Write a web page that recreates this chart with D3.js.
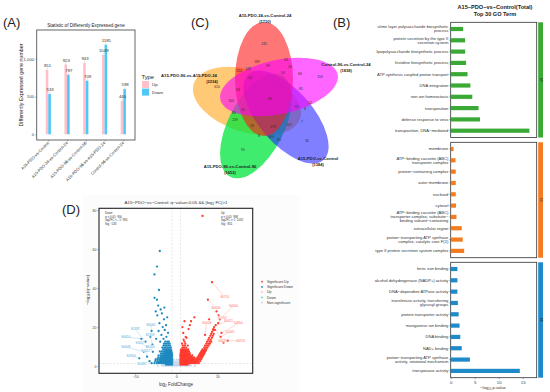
<!DOCTYPE html>
<html><head><meta charset="utf-8">
<script src="https://cdn.jsdelivr.net/npm/d3@7"></script>
<style>body{margin:0;background:#fff}svg{display:block}text{font-family:"Liberation Sans",Arial,sans-serif}</style>
</head><body><svg id="c" width="550" height="392"></svg>
<script>
// ---------------- DATA ----------------
// Panel A
const degCategories = ["A15-PDO-vs-Control","A15-PDO-24-vs-Control-24","A15-PDO-96-vs-Control-96","A15-PDO-96-vs-A15-PDO-24","Control-96-vs-Control-24"];
const degUp = [851, 923, 943, 1049, 440];
const degDown = [533, 787, 709, 1185, 598];
const degTicks = [0, 500, 1000];

// Panel B
const goBPTerms = ["slime layer polysaccharide biosynthetic\nprocess","protein secretion by the type II\nsecretion system","lipopolysaccharide biosynthetic process","histidine biosynthetic process","ATP synthesis coupled proton transport","DNA integration","iron ion homeostasis","transposition","defense response to virus","transposition, DNA−mediated"];
const goBPValues = [2.6, 3.0, 3.0, 3.2, 3.5, 4.1, 4.5, 5.8, 6.1, 16.4];
const goCCTerms = ["membrane","ATP−binding cassette (ABC)\ntransporter complex","protein−containing complex","outer membrane","nucleoid","cytosol","ATP−binding cassette (ABC)\ntransporter complex, substrate−\nbinding subunit−containing","extracellular region","proton−transporting ATP synthase\ncomplex, catalytic core F(1)","type II protein secretion system complex"];
const goCCValues = [0.6, 1.0, 1.05, 1.05, 1.05, 1.1, 1.2, 2.3, 2.5, 2.8];
const goMFTerms = ["ferric iron binding","alcohol dehydrogenase (NADP+) activity","DNA−dependent ATPase activity","transferase activity, transferring\nglycosyl groups","protein transporter activity","manganese ion binding","DNA binding","NAD+ binding","proton−transporting ATP synthase\nactivity, rotational mechanism","transposase activity"];
const goMFValues = [1.4, 1.4, 1.4, 1.5, 1.65, 1.85, 2.0, 2.3, 4.0, 14.4];
const goTicks = [0, 5, 10, 15];

// Panel C
const vennSets = ["A15-PDO-24-vs-Control-24","Control-96-vs-Control-24","A15-PDO-vs-Control","A15-PDO-96-vs-Control-96","A15-PDO-96-vs-A15-PDO-24"];
const vennSizes = [1710, 1838, 1384, 1652, 2234];
const vennRegionCounts = ["135","189","63","99","254","148","26","20","56","68","156","610","63","85","86","100","25","62","12","80","8","239","58","178","147","7","8","363","85","95","36"];

// Panel D (log2FC, -log10 q)
const downRows = [
 [0.8,[-1.0,-1.3,-1.6,-1.9,-2.2,-2.5]],
 [1.5,[-1.1,-1.4,-1.7,-2.0,-2.3,-2.6,-2.9,-3.2,-3.5,-3.8,-4.2,-4.7,-5.3,-6.0]],
 [2.0,[-1.0,-1.3,-1.6,-1.9,-2.2,-2.5,-2.8,-3.1,-3.4,-3.9,-4.4]],
 [2.5,[-1.2,-1.5,-1.8,-2.1,-2.4,-2.7,-3.0,-3.3,-3.7,-4.1,-4.6,-5.1]],
 [3.0,[-1.0,-1.3,-1.6,-1.9,-2.2,-2.5,-2.8,-3.1,-3.5,-3.9]],
 [3.5,[-1.1,-1.4,-1.7,-2.0,-2.3,-2.6,-2.9,-3.2,-3.6,-4.0,-4.5,-5.0]],
 [4.0,[-1.0,-1.3,-1.6,-1.9,-2.2,-2.5,-2.8,-3.2,-3.7]],
 [4.5,[-1.2,-1.5,-1.8,-2.1,-2.4,-2.7,-3.1,-3.5,-3.9,-4.4]],
 [5.0,[-1.0,-1.3,-1.6,-1.9,-2.2,-2.5,-2.8,-3.2,-3.6]],
 [5.5,[-1.1,-1.4,-1.7,-2.0,-2.3,-2.6,-3.0,-3.4,-3.8,-4.3]],
 [6.0,[-1.0,-1.3,-1.6,-1.9,-2.3,-2.7,-3.1]],
 [6.5,[-1.2,-1.5,-1.8,-2.1,-2.5,-2.9,-3.3,-3.7]],
 [7.0,[-1.1,-1.4,-1.7,-2.0,-2.4,-2.8]],
 [7.5,[-1.3,-1.6,-1.9,-2.2,-2.6,-3.0,-3.5,-4.0]],
 [8.0,[-1.2,-1.5,-1.8,-2.2,-2.6]],
 [8.5,[-1.4,-1.7,-2.0,-2.4,-2.8,-3.2]],
 [9.5,[-1.3,-1.7,-2.1,-2.5,-2.9,-3.4]],
 [10.5,[-1.5,-1.9,-2.3,-2.7,-3.1]],
 [11.5,[-1.6,-2.0,-2.5,-3.0]],
 [12.5,[-1.8,-2.2,-2.7]]
];
const downScatter = [[-3.1,14],[-2.4,15],[-3.6,16],[-2.0,17],[-2.8,18.5],[-3.3,20],[-2.5,21],[-4.1,22],[-3.0,24],[-2.2,25],[-3.5,27],[-4.6,26],[-3.8,29],[-2.9,30],[-4.4,31],[-5.0,28],[-5.3,35],[-4.0,59],[-4.7,51],[-5.3,47],[-4.2,39],[-4.7,34],[-7.1,10],[-7.9,7.3],[-7.5,12.5],[-5.7,7.3],[-7.1,4.8],[-8.5,14],[-6.0,18],[-9.0,4],[-6.5,2.5],[-5.8,11],[-4.9,14],[-4.3,18],[-3.9,12.5],[-6.3,15]];
const upRows = [
 [0.8,[1.0,1.3,1.6,1.9,2.2,2.5,2.8]],
 [1.5,[1.1,1.4,1.7,2.0,2.3,2.6,2.9,3.2,3.5,3.8,4.2,4.6,5.0,5.5]],
 [2.0,[1.0,1.3,1.6,1.9,2.2,2.5,2.8,3.1,3.4,3.7,4.1,4.5,4.9]],
 [2.5,[1.2,1.5,1.8,2.1,2.4,2.7,3.0,3.3,3.6,4.0,4.4,4.8,5.3,5.8]],
 [3.0,[1.0,1.3,1.6,1.9,2.2,2.5,2.8,3.1,3.5,3.9,4.3,4.7,5.2]],
 [3.5,[1.1,1.4,1.7,2.0,2.3,2.6,2.9,3.2,3.6,4.0,4.5,5.0,5.6,6.1]],
 [4.0,[1.0,1.3,1.6,1.9,2.2,2.5,2.8,3.2,3.6,4.1,4.9,5.4,5.9]],
 [4.5,[1.2,1.5,1.8,2.1,2.4,2.7,3.0,3.4,3.8,4.3,5.2,5.8,6.3]],
 [5.0,[1.0,1.3,1.6,1.9,2.2,2.5,2.8,3.2,3.7,5.4,5.9,6.4]],
 [5.5,[1.1,1.4,1.7,2.0,2.3,2.6,3.0,3.4,3.9,5.5,6.0,6.5]],
 [6.0,[1.0,1.3,1.6,1.9,2.3,2.7,3.1,5.7,6.2,6.7]],
 [6.5,[1.2,1.5,1.8,2.1,2.5,2.9,3.3,5.8,6.3,6.8]],
 [7.0,[1.1,1.4,1.7,2.1,2.5,2.9,6.0,6.5,6.9]],
 [7.5,[1.3,1.6,1.9,2.3,2.7,3.1,6.1,6.6,7.0]],
 [8.0,[1.1,1.5,1.8,2.2,2.6,6.3,6.8,7.2]],
 [8.5,[1.2,1.6,2.0,2.4,2.9,6.4,6.9,7.3]],
 [9.5,[1.5,1.9,2.4,6.8,7.2,7.6]],
 [10.5,[1.6,2.1,2.8,7.0,7.5,7.9]],
 [11.5,[1.4,2.2,7.3,7.8,8.2]],
 [12.5,[2.0,7.5,8.1,8.5]],
 [13.5,[1.8,7.8,8.4]],
 [14.5,[2.5,8.0,8.7]],
 [15.5,[8.3,8.9]],
 [16.5,[8.5,9.1]],
 [17.5,[8.7]],
 [18.5,[9.0,9.4]]
];
const upScatter = [[1.7,17],[2.3,15],[3.0,19],[3.6,23],[4.4,25],[3.3,21],[1.5,20],[2.0,23],[6.4,77],[8.7,43],[7.7,34],[9.8,28],[10.3,26],[10.6,24],[10.2,22],[9.0,19],[11.0,17],[8.0,24],[7.0,16],[12.5,13],[11.5,12],[10.8,15],[9.2,20],[9.6,21]];
const nsRows = [
 [0.2,[-3.5,-3.0,-2.5,-2.0,-1.5,-1.0,-0.5,0,0.5,1.0,1.5,2.0,2.5,3.0,3.5,4.5,-4.5]],
 [0.6,[-3.2,-2.7,-2.2,-1.7,-1.2,-0.7,-0.2,0.3,0.8,1.3,1.8,2.3,2.8,3.3]],
 [1.0,[-2.5,-1.9,-1.3,-0.8,-0.3,0.2,0.7,1.3,1.9,2.5]],
 [1.6,[-0.8,-0.4,0,0.4,0.8]],
 [2.4,[-0.7,-0.2,0.3,0.7]],
 [3.2,[-0.5,0.1,0.6]]
];
const volcanoLegend = ["Significant Up","Significant Down","Up","Down","Non-significant"];
const upInfo = ["Up","q < 0.05: 968","log2FC > 1: 1032","Sig : 851"];
const downInfo = ["Down","q < 0.05: 900","log2FC < −1: 934","Sig : 533"];
const volcanoXTicks = [-10, 0, 10];
const volcanoYTicks = [0, 20, 40, 60, 80];
// [gene, point log2FC, point -log10q, label log2FC, label -log10q]
const downGeneLabels = [["S1392",-7.5,12.5,-10.0,18.9],["S0040",-6.0,18,-6.2,21.2],["S1359",-5.8,11,-6.4,15.9],["S0610",-8.5,14,-12.3,14.9],["S0017",-7.1,10,-8.8,11.7],["S1400",-5.7,7.3,-6.4,9.9],["S0008",-7.9,7.3,-12.3,9.9],["S4704",-9.0,4,-11.0,5.3],["S0017",-7.1,4.8,-7.4,7.7],["S1492",-6.5,2.5,-8.4,0.9]];
const upGeneLabels = [["S0710",8.7,43,11.8,35.3],["S0006",7.7,34,9.6,30],["S4000",10.6,24,13.9,30.8],["S0702",10.2,22,11.2,24.8],["S0021",9.6,21,12.7,23.1],["S4904",11.0,17,15.1,21.9],["S0008",7.0,16,7.4,21.9],["S0005",10.8,15,13.1,17.6],["S4291",9.2,20,11.3,13],["S0701",12.5,13,15.7,13]];

// ---------------- DRAW ----------------
const svg = d3.select('#c');
svg.append('rect').attr('width',550).attr('height',392).attr('fill','#fff');
const FS = '"Liberation Sans",Arial,sans-serif';
const SERIF = '"Liberation Serif","DejaVu Serif",serif';

function panelLabel(t,x,y){svg.append('text').attr('x',x).attr('y',y).attr('font-size',13).attr('fill','#222').text(t);}
panelLabel('(A)',3,27); panelLabel('(C)',191,27); panelLabel('(B)',333,27); panelLabel('(D)',62,214);

// ===== Panel A =====
{
 const g = svg.append('g');
 const y = d3.scaleLinear().domain([0,1000]).range([134.3,58.7]);
 const x = d3.scalePoint().domain(degCategories).range([48.3,123.3]);
 const bw = 2.6;
 g.append('text').attr('x',86).attr('y',26.5).attr('text-anchor','middle').attr('font-size',4.6).attr('fill','#222').text('Statistic of Differently Expressed gene');
 g.append('rect').attr('x',36.7).attr('y',30).attr('width',98.3).attr('height',110).attr('fill','#fff').attr('stroke','#555').attr('stroke-width',0.9);
 degCategories.forEach((c,i)=>{
  const cx = x(c);
  g.append('rect').attr('x',cx-bw).attr('width',bw).attr('y',y(degUp[i])).attr('height',y(0)-y(degUp[i])).attr('fill','#ffc0cb');
  g.append('rect').attr('x',cx).attr('width',bw).attr('y',y(degDown[i])).attr('height',y(0)-y(degDown[i])).attr('fill','#4fc8f5');
  [[degUp[i],cx-bw/2],[degDown[i],cx+bw/2]].forEach(([v,bx])=>{
   g.append('line').attr('x1',bx).attr('x2',bx+0.3).attr('y1',y(v)).attr('y2',y(v)-2.2).attr('stroke','#999').attr('stroke-width',0.3);
   g.append('text').attr('x',bx+0.5).attr('y',y(v)-3).attr('text-anchor','middle').attr('font-size',4.3).attr('fill','#333').text(v);
  });
 });
 const ax = g.append('g').attr('transform','translate(36.7,0)').call(d3.axisLeft(y).tickValues(degTicks).tickSize(1.5).tickPadding(1));
 ax.select('.domain').remove();
 ax.selectAll('text').attr('font-size',4.3).attr('fill','#444').attr('font-family',FS);
 ax.selectAll('line').attr('stroke','#444').attr('stroke-width',0.4);
 const bx = g.append('g').attr('transform','translate(0,140)').call(d3.axisBottom(x).tickSize(1.5).tickFormat(''));
 bx.select('.domain').remove(); bx.selectAll('line').attr('stroke','#444').attr('stroke-width',0.4);
 degCategories.forEach(c=>{
  g.append('text').attr('transform',`translate(${x(c)+1},${143.5}) rotate(-45)`).attr('text-anchor','end').attr('font-size',4.1).attr('fill','#333').text(c);
 });
 g.append('text').attr('transform','translate(23,85) rotate(-90)').attr('text-anchor','middle').attr('font-size',5.3).attr('fill','#222').text('Differently Expressed gene number');
 g.append('text').attr('x',141.5).attr('y',78.5).attr('font-size',5.8).attr('fill','#222').text('Type');
 [['Up','#ffc0cb'],['Down','#4fc8f5']].forEach((d,i)=>{
  g.append('rect').attr('x',142).attr('y',81+i*7.6).attr('width',7).attr('height',7).attr('fill',d[1]);
  g.append('text').attr('x',152).attr('y',86.3+i*7.6).attr('font-size',4.4).attr('fill','#333').text(d[0]);
 });
}

// ===== Panel C (Venn) =====
{
 const g = svg.append('g');
 const shapes = [
  {cx:264,cy:79,a:57,b:29,rot:-90,col:'#ff1a1a',op:0.6},
  {cx:279,cy:87,a:60,b:27,rot:-12,col:'#ff00ff',op:0.6},
  {cx:286,cy:117,a:57,b:27,rot:49,col:'#2a2aff',op:0.6},
  {cx:256,cy:126,a:57,b:28,rot:117,col:'#00e63c',op:0.75},
  {cx:247,cy:101,a:56,b:31,rot:18,col:'#ffb23a',op:0.7}
 ];
 [4,3,2,0,1].forEach(i=>{
  const s = shapes[i];
  g.append('ellipse').attr('cx',0).attr('cy',0).attr('rx',s.a).attr('ry',s.b)
   .attr('transform',`translate(${s.cx},${s.cy}) rotate(${s.rot})`)
   .attr('fill',s.col).attr('fill-opacity',s.op);
 });
 const pos = [[264,44],[257,62],[286,60],[268,66],[239,71],[248,69],[290,67],[250,78],[283,73],[300,74],[320,77],[217,87],[238,90],[301,89],[270,99],[231,101],[243,110],[297,107],[310,103],[234,113],[305,109],[235,120],[252,126],[273,127],[289,125],[302,122],[259,136],[271,137],[279,140],[243,150],[307,141]];
 vennRegionCounts.forEach((t,i)=>{
  g.append('text').attr('x',pos[i][0]).attr('y',pos[i][1]+1.2).attr('text-anchor','middle').attr('font-size',3.4).attr('font-family',SERIF).attr('fill','#333').text(t);
 });
 // [name x, name y, count x, count y]
 const labPos = [[265,17,265,23],[346,65.5,346,71.5],[318,160,318,166],[230,168,230,174],[189,77,212,83]];
 vennSets.forEach((s,i)=>{
  const [lx,ly,cx2,cy2] = labPos[i];
  g.append('text').attr('x',lx).attr('y',ly).attr('text-anchor','middle').attr('font-size',4.2).attr('font-weight','bold').attr('font-family',SERIF).attr('fill','#222').text(s);
  g.append('text').attr('x',cx2).attr('y',cy2).attr('text-anchor','middle').attr('font-size',4.0).attr('font-weight','bold').attr('font-family',SERIF).attr('fill','#222').text('('+vennSizes[i]+')');
 });
}

// ===== Panel B =====
{
 const g = svg.append('g');
 const x = d3.scaleLinear().domain([0,15]).range([450.7,522.7]);
 g.append('text').attr('x',495).attr('y',8.5).attr('text-anchor','middle').attr('font-size',5.6).attr('font-weight','bold').attr('fill','#222').text('A15−PDO−vs−Control(Total)');
 g.append('text').attr('x',495).attr('y',15.5).attr('text-anchor','middle').attr('font-size',5.6).attr('font-weight','bold').attr('fill','#222').text('Top 30 GO Term');
 const panels = [
  {terms:goBPTerms,vals:goBPValues,top:22.3,bot:137.5,col:'#3aa935',lab:'BP'},
  {terms:goCCTerms,vals:goCCValues,top:142.3,bot:257.7,col:'#f47b20',lab:'CC'},
  {terms:goMFTerms,vals:goMFValues,top:262.3,bot:377.7,col:'#1f8ac9',lab:'MF'}
 ];
 panels.forEach(p=>{
  const y = d3.scalePoint().domain(p.terms).range([p.top+6.7,p.bot-6.8]);
  g.append('rect').attr('x',450.7).attr('y',p.top).attr('width',86).attr('height',p.bot-p.top).attr('fill','#fff').attr('stroke','#333').attr('stroke-width',0.8);
  p.terms.forEach((t,i)=>{
   g.append('rect').attr('x',x(0)).attr('y',y(t)-2.1).attr('width',x(p.vals[i])-x(0)).attr('height',4.2).attr('fill',p.col);
   g.append('line').attr('x1',x(0)-1.5).attr('x2',x(0)).attr('y1',y(t)).attr('y2',y(t)).attr('stroke','#333').attr('stroke-width',0.4);
   const lines = t.split('\n');
   const tx = g.append('text').attr('x',448.3).attr('text-anchor','end').attr('font-size',4.1).attr('fill','#333');
   lines.forEach((l,k)=>{
    tx.append('tspan').attr('x',448.3).attr('y',y(t)+1.4+(k-(lines.length-1)/2)*4.1).text(l);
   });
  });
  g.append('rect').attr('x',538.2).attr('y',p.top).attr('width',4.8).attr('height',p.bot-p.top).attr('fill',p.col);
  g.append('text').attr('transform',`translate(${540},${(p.top+p.bot)/2}) rotate(90)`).attr('text-anchor','middle').attr('font-size',3.2).attr('fill','#222').text(p.lab);
 });
 const ax = g.append('g').attr('transform','translate(0,377.7)').call(d3.axisBottom(x).tickValues(goTicks).tickSize(1.6).tickPadding(1.2));
 ax.select('.domain').remove();
 ax.selectAll('text').attr('font-size',4.4).attr('fill','#444').attr('font-family',FS);
 ax.selectAll('line').attr('stroke','#333').attr('stroke-width',0.4);
 const al = g.append('text').attr('x',493).attr('y',389).attr('text-anchor','middle').attr('font-size',4.1).attr('fill','#333');
 al.append('tspan').text('−log');
 al.append('tspan').attr('font-size',2.9).attr('dy',1).text('10');
 al.append('tspan').attr('dy',-1).text(' p-value');
}

// ===== Panel D =====
{
 const g = svg.append('g');
 g.append('rect').attr('x',83).attr('y',195).attr('width',217).attr('height',197).attr('fill','#fcfcfc');
 const x = d3.scaleLinear().domain([-18.8,18.6]).range([99,252.7]);
 const y = d3.scaleLinear().domain([-3.7,80.9]).range([373.3,208.3]);
 g.append('rect').attr('x',99).attr('y',208.3).attr('width',153.7).attr('height',165).attr('fill','#fff');
 [-1,1].forEach(v=>g.append('line').attr('x1',x(v)).attr('x2',x(v)).attr('y1',208.3).attr('y2',373.3).attr('stroke','#ccc').attr('stroke-width',0.5).attr('stroke-dasharray','2,1.5'));
 g.append('line').attr('x1',99).attr('x2',252.7).attr('y1',y(1.3)).attr('y2',y(1.3)).attr('stroke','#ccc').attr('stroke-width',0.5).attr('stroke-dasharray','2,1.5');
 const flat = rows => rows.flatMap(([yy,xs])=>xs.map(xx=>[xx,yy]));
 const ns = flat(nsRows), dn = flat(downRows).concat(downScatter), up = flat(upRows).concat(upScatter);
 const dot = (arr,col,r)=>g.append('g').selectAll('circle').data(arr).join('circle').attr('cx',d=>x(d[0])).attr('cy',d=>y(d[1])).attr('r',r).attr('fill',col);
 dot(ns,'#c4d6ea',1.0);
 dot(dn,'#1f8ac0',1.15);
 dot(up,'#ff3b2f',1.15);
 const lab = (arr,col)=>arr.forEach(([t,px,py,lx,ly])=>{
  g.append('line').attr('x1',x(px)).attr('y1',y(py)).attr('x2',x(lx)).attr('y2',y(ly)).attr('stroke',col).attr('stroke-width',0.25);
  g.append('text').attr('x',x(lx)).attr('y',y(ly)+1.1).attr('text-anchor','middle').attr('font-size',3.1).attr('fill',col)
   .attr('paint-order','stroke').attr('stroke','#fff').attr('stroke-width',0.6).text(t);
 });
 lab(downGeneLabels,'#4aa3d4');
 lab(upGeneLabels,'#ff6b5f');
 g.append('rect').attr('x',99).attr('y',208.3).attr('width',153.7).attr('height',165).attr('fill','none').attr('stroke','#222').attr('stroke-width',1.1);
 const ay = g.append('g').attr('transform','translate(99,0)').call(d3.axisLeft(y).tickValues(volcanoYTicks).tickSize(1.5).tickPadding(1));
 ay.select('.domain').remove(); ay.selectAll('text').attr('font-size',3.5).attr('fill','#444').attr('font-family',FS); ay.selectAll('line').attr('stroke','#444').attr('stroke-width',0.4);
 const axx = g.append('g').attr('transform','translate(0,373.3)').call(d3.axisBottom(x).tickValues(volcanoXTicks).tickSize(1.5).tickPadding(1));
 axx.select('.domain').remove(); axx.selectAll('text').attr('font-size',3.5).attr('fill','#444').attr('font-family',FS); axx.selectAll('line').attr('stroke','#444').attr('stroke-width',0.4);
 const tt = g.append('text').attr('x',176).attr('y',204).attr('text-anchor','middle').attr('font-size',4.4).attr('fill','#333');
 tt.append('tspan').text('A15−PDO−vs−Control: q−value<0.05 && |log');
 tt.append('tspan').attr('font-size',3).attr('dy',1).text('2');
 tt.append('tspan').attr('dy',-1).text(' FC|>1');
 const xl = g.append('text').attr('x',176).attr('y',385.5).attr('text-anchor','middle').attr('font-size',4.6).attr('fill','#333');
 xl.append('tspan').text('log'); xl.append('tspan').attr('font-size',3.2).attr('dy',1).text('2'); xl.append('tspan').attr('dy',-1).text(' FoldChange');
 const yl = g.append('text').attr('transform','translate(89,290) rotate(-90)').attr('text-anchor','middle').attr('font-size',4.4).attr('fill','#333');
 yl.append('tspan').text('−log'); yl.append('tspan').attr('font-size',3).attr('dy',1).text('10'); yl.append('tspan').attr('dy',-1).text('(q−value)');
 downInfo.forEach((t,i)=>g.append('text').attr('x',105).attr('y',214+i*3.7).attr('font-size',2.9).attr('fill','#333').text(t));
 upInfo.forEach((t,i)=>g.append('text').attr('x',221).attr('y',214+i*3.7).attr('font-size',2.9).attr('fill','#333').text(t));
 const lc = ['#ff3b2f','#1f8ac0','#f7b5c4','#3fd9d0','#c4d6ea'];
 volcanoLegend.forEach((t,i)=>{
  g.append('circle').attr('cx',262).attr('cy',281.7+i*5.2).attr('r',0.9).attr('fill',lc[i]);
  g.append('text').attr('x',267).attr('y',283+i*5.2).attr('font-size',3.5).attr('fill','#333').text(t);
 });
}
</script></body></html>
